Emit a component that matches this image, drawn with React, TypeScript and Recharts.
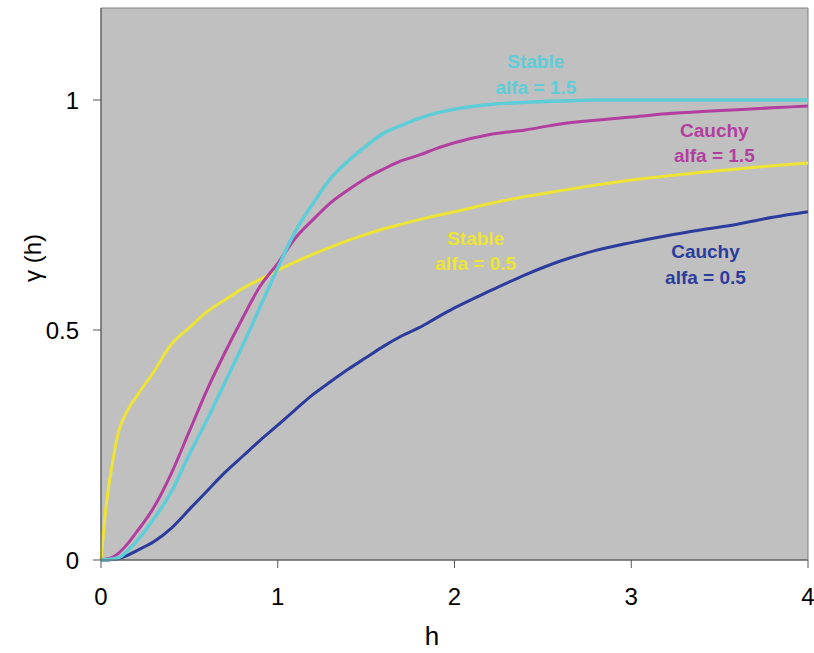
import {
  LineChart,
  Line,
  XAxis,
  YAxis,
  ReferenceArea,
  ReferenceDot,
} from 'recharts';

const hValues = [
  0, 0.03, 0.06, 0.1, 0.15, 0.2, 0.3, 0.4, 0.5, 0.6, 0.7, 0.8, 0.9, 1.0, 1.1, 1.2, 1.3,
  1.4, 1.5, 1.6, 1.7, 1.8, 1.9, 2.0, 2.2, 2.4, 2.6, 2.8, 3.0, 3.2, 3.4, 3.6, 3.8, 4.0,
];

const stable05 = [
  0, 0.12, 0.2, 0.28, 0.325, 0.355, 0.41, 0.47, 0.505, 0.54, 0.565, 0.59, 0.61, 0.63, 0.648,
  0.665, 0.68, 0.695, 0.708, 0.72, 0.73, 0.74, 0.749, 0.757, 0.775, 0.79, 0.803, 0.815,
  0.826, 0.835, 0.843, 0.85, 0.857, 0.863,
];

const cauchy15 = [
  0, 0.002, 0.005, 0.015, 0.035, 0.06, 0.115, 0.19, 0.28, 0.37, 0.45, 0.525, 0.595, 0.645,
  0.7, 0.74, 0.777, 0.805, 0.83, 0.85, 0.868, 0.88, 0.895, 0.907, 0.925, 0.935, 0.948,
  0.956, 0.963, 0.97, 0.975, 0.979, 0.983, 0.987,
];

const stable15 = [
  0, 0.001, 0.002, 0.005, 0.02, 0.04, 0.09, 0.15, 0.23, 0.305, 0.385, 0.465, 0.55, 0.635,
  0.715, 0.775, 0.83, 0.868, 0.9, 0.928, 0.945, 0.96, 0.972, 0.98, 0.99, 0.995, 0.998, 1.0,
  1.0, 1.0, 1.0, 1.0, 1.0, 1.0,
];

const cauchy05 = [
  0, 0, 0.001, 0.003, 0.01, 0.02, 0.04, 0.07, 0.11, 0.15, 0.19, 0.225, 0.26, 0.293, 0.327,
  0.36, 0.388, 0.415, 0.44, 0.465, 0.487, 0.505, 0.527, 0.548, 0.585, 0.62, 0.65, 0.673,
  0.69, 0.705, 0.718, 0.73, 0.745, 0.757,
];

const xTicks = [0, 1, 2, 3, 4];
const yTicks = [0, 0.5, 1];

const data = hValues.map((h, i) => ({
  h,
  stable05: stable05[i],
  cauchy15: cauchy15[i],
  stable15: stable15[i],
  cauchy05: cauchy05[i],
}));

const series = [
  { key: 'stable05', color: '#ede434', width: 3 },
  { key: 'cauchy05', color: '#2b3c9c', width: 3 },
  { key: 'cauchy15', color: '#b23ea0', width: 3 },
  { key: 'stable15', color: '#5ecdd8', width: 3.5 },
];

const notes = [
  { name: 'Stable', alfa: 'alfa = 1.5', color: '#5ecdd8', h: 2.46, g: 1.083 },
  { name: 'Cauchy', alfa: 'alfa = 1.5', color: '#b23ea0', h: 3.47, g: 0.935 },
  { name: 'Stable', alfa: 'alfa = 0.5', color: '#ede434', h: 2.12, g: 0.7 },
  { name: 'Cauchy', alfa: 'alfa = 0.5', color: '#2b3c9c', h: 3.42, g: 0.67 },
];

const NoteLabel = (props: any) => {
  const { viewBox, note } = props;
  const cx = viewBox.x + (viewBox.width || 0) / 2;
  const cy = viewBox.y + (viewBox.height || 0) / 2;
  return (
    <text
      x={cx}
      y={cy}
      textAnchor="middle"
      fill={note.color}
      fontFamily="'Liberation Sans', Arial, sans-serif"
      fontWeight="bold"
      fontSize={19}
    >
      <tspan x={cx} dy="0.35em">{note.name}</tspan>
      <tspan x={cx} dy="1.35em">{note.alfa}</tspan>
    </text>
  );
};

const tickStyle = {
  fill: '#000',
  fontSize: 24,
  fontFamily: "'Liberation Sans', Arial, sans-serif",
};

export default function App() {
  return (
    <div style={{ position: 'absolute', left: 0, top: 0, background: '#fff' }}>
      <LineChart
        width={814}
        height={653}
        data={data}
        margin={{ top: 8, right: 6, left: 0, bottom: 0 }}
      >
        <ReferenceArea
          x1={0}
          x2={4}
          y1={0}
          y2={1.2}
          fill="#c0c0c0"
          fillOpacity={1}
          stroke="#808080"
          strokeWidth={1}
        />
        <XAxis
          dataKey="h"
          type="number"
          domain={[0, 4]}
          ticks={xTicks}
          height={93}
          tickSize={8}
          tickMargin={20}
          stroke="#555"
          tick={tickStyle}
          label={{
            content: () => (
              <text
                x={432}
                y={645}
                textAnchor="middle"
                fill="#000"
                fontSize={26}
                fontFamily="'Liberation Sans', Arial, sans-serif"
              >
                h
              </text>
            ),
          }}
        />
        <YAxis
          type="number"
          domain={[0, 1.2]}
          ticks={yTicks}
          width={101}
          tickSize={8}
          tickMargin={14}
          stroke="#555"
          tick={tickStyle}
          label={{
            content: () => (
              <text
                x={35}
                y={258}
                transform="rotate(-90 35 258)"
                textAnchor="middle"
                dominantBaseline="middle"
                fill="#000"
                fontSize={24}
                fontFamily="'Liberation Sans', Arial, sans-serif"
              >
                γ (h)
              </text>
            ),
          }}
        />
        {series.map((s) => (
          <Line
            key={s.key}
            type="monotone"
            dataKey={s.key}
            stroke={s.color}
            strokeWidth={s.width}
            dot={false}
            activeDot={false}
            isAnimationActive={false}
          />
        ))}
        {notes.map((n, i) => (
          <ReferenceDot
            key={i}
            x={n.h}
            y={n.g}
            r={0}
            fill="none"
            stroke="none"
            label={{ content: (p: any) => <NoteLabel {...p} note={n} /> }}
          />
        ))}
      </LineChart>
    </div>
  );
}
